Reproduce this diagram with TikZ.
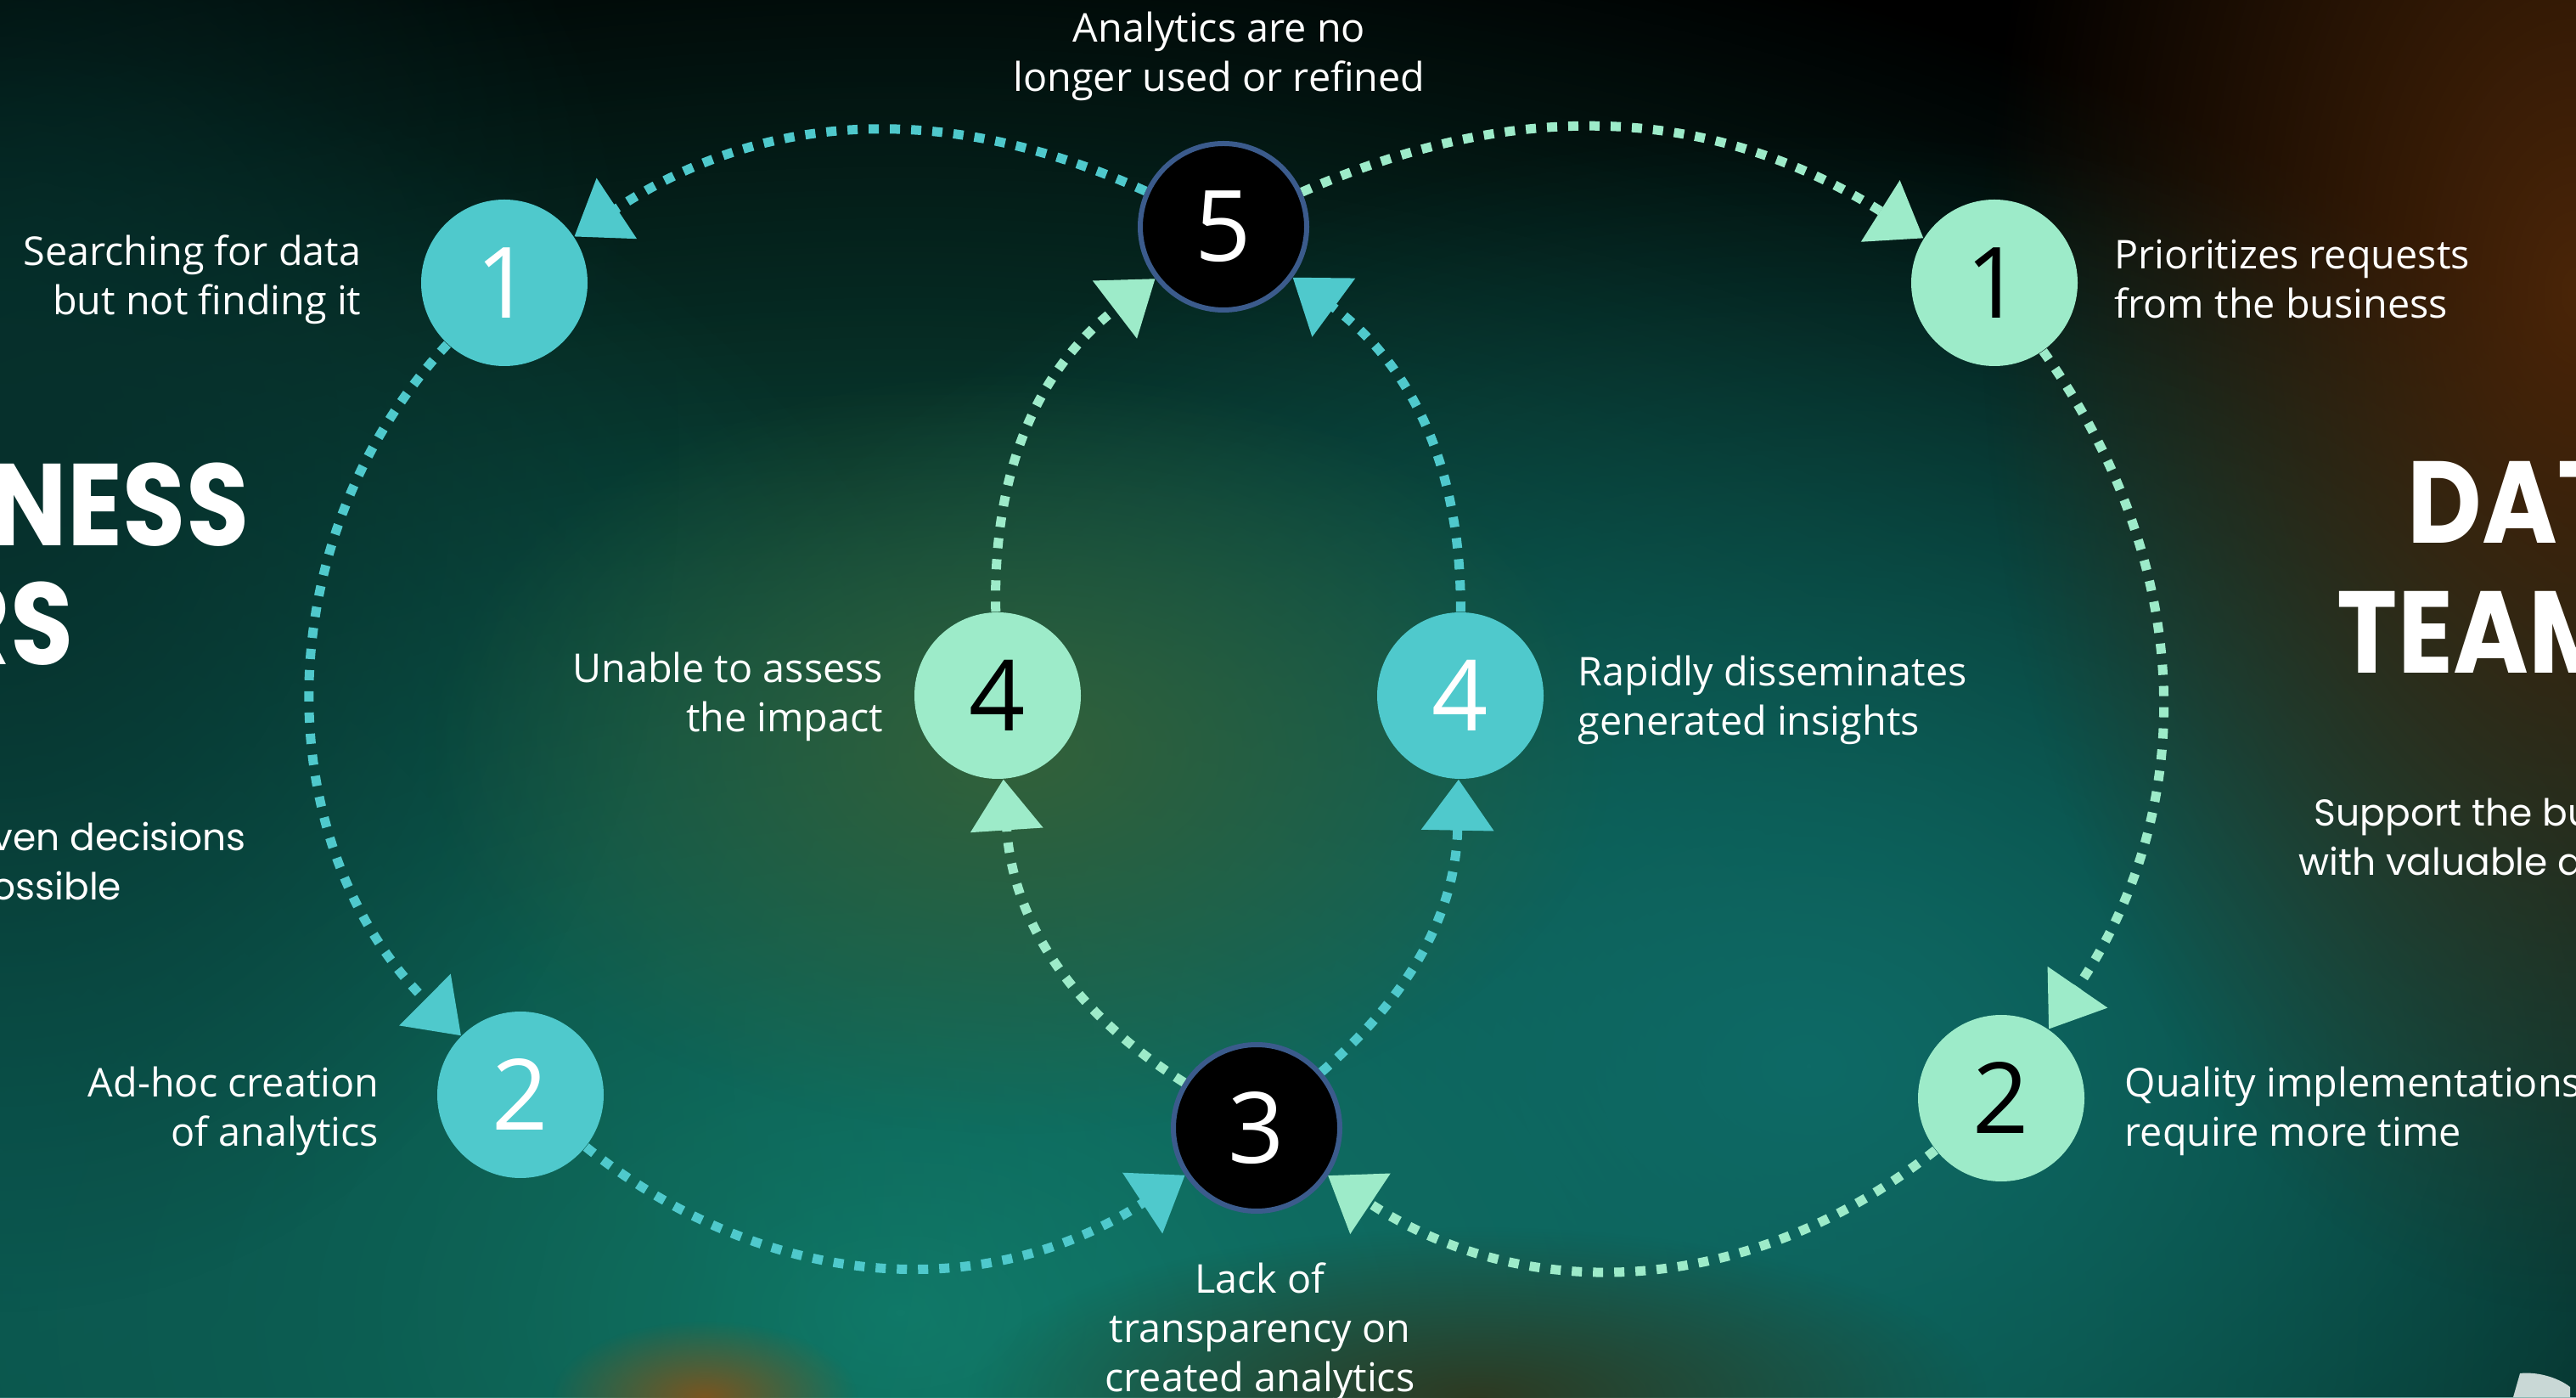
\documentclass[tikz,border=0pt]{standalone}
\usepackage{fontspec}
\setmainfont{Open Sans}
\newfontfamily\titlefont{Poppins}
\newfontfamily\headfont{Poppins}[FakeStretch=0.88]
\usepackage{tikz}
\usetikzlibrary{arrows.meta,positioning,fadings}
\definecolor{cycteal}{HTML}{4FC9CC}
\definecolor{cycmint}{HTML}{9DEBC9}
\definecolor{ringblue}{HTML}{3B5B8C}
\definecolor{hazeteal}{HTML}{13866E}
\definecolor{hazesea}{HTML}{0E6A66}
\definecolor{hazeolive}{HTML}{33613A}
\definecolor{hazedeep}{HTML}{0C5A52}
\definecolor{hazenight}{HTML}{06302C}
\definecolor{hazebrown}{HTML}{4A2508}
\definecolor{hazeamber}{HTML}{7A5520}
\definecolor{hazemoss}{HTML}{2E3A22}
\definecolor{blobgray}{HTML}{C9D8D6}
\tikzfading[name=glow, inner color=transparent!0, outer color=transparent!100]

\tikzset{
  stage/.style={circle, minimum size=1.96cm, inner sep=0pt, font=\fontsize{33}{33}\selectfont},
  tealstage/.style={stage, fill=cycteal, text=white},
  mintstage/.style={stage, fill=cycmint, text=black},
  darkstage/.style={stage, fill=black, draw=ringblue, line width=0.06cm, text=white},
  flow/.style={line width=0.11cm, dash pattern=on 0.12cm off 0.13cm,
    -{Triangle[length=0.6cm,width=0.83cm]}},
  tealflow/.style={flow, cycteal},
  mintflow/.style={flow, cycmint},
  lbl/.style={text=white, inner sep=0pt, font=\fontsize{13.3}{16.5}\selectfont},
  headline/.style={text=white, inner sep=0pt, font=\headfont\bfseries\fontsize{39}{39}\selectfont},
  sidenote/.style={text=white, inner sep=0pt, font=\titlefont\fontsize{12.5}{16.5}\selectfont},
  haze/.style={fill=#1, path fading=glow}
}

\begin{document}
\begin{tikzpicture}
  \useasboundingbox (0,0) rectangle (30.34,16.45);

  % Background
  \fill[black] (0,0) rectangle (30.34,16.45);
  \fill[haze=hazeteal]  (10.6,1.0) ellipse (27 and 17);
  \fill[haze=hazedeep]  (0,2.9) ellipse (13 and 13);
  \fill[haze=hazenight] (0,11) ellipse (8 and 10);
  \fill[haze=hazesea]   (21.3,3.9) ellipse (15 and 11);
  \fill[haze=hazeolive] (12.0,7.6) ellipse (7 and 4.5);
  \fill[haze=hazebrown] (30.34,13.0) ellipse (7 and 12);
  \fill[haze=hazeamber] (8.3,0) ellipse (1.8 and 0.9);
  \fill[haze=hazemoss]  (17.4,0) ellipse (6 and 2);
  \fill[blobgray] (29.60,0) -- (29.68,0.28) .. controls (29.85,0.30) and (30.1,0.25) .. (30.27,0.12) -- (30.27,0) -- cycle;

  % Titles
  \node[headline, anchor=base east] (tbu1) at (2.94,10.02) {NESS};
  \node[headline, anchor=base east] (tbu2) at (0.87,8.62) {RS};
  \node[headline, anchor=base west] (tdt1) at (28.35,10.05) {DAT};
  \node[headline, anchor=base west] (tdt2) at (27.52,8.52) {TEAM};
  \node[sidenote, anchor=west, align=left] (sbu) at (-0.1,6.31) {ven decisions\\ossible};
  \node[sidenote, align=center] (sdt) at (28.89,6.60) {Support the bu\\with valuable an};

  % Stages
  \node[darkstage] (s5) at (14.41,13.78) {5};
  \node[darkstage] (s3) at (14.80,3.17) {3};
  \node[tealstage] (bu1) at (5.94,13.12) {1};
  \node[tealstage] (bu2) at (6.13,3.56) {2};
  \node[tealstage] (bu4) at (17.20,8.26) {4};
  \node[mintstage] (dt1) at (23.49,13.12) {1};
  \node[mintstage] (dt2) at (23.57,3.52) {2};
  \node[mintstage] (dt4) at (11.75,8.26) {4};

  % Labels
  \node[lbl, align=center] (l5) at (14.36,15.79) {Analytics are no\\longer used or refined};
  \node[lbl, align=center] (l3) at (14.84,0.77) {Lack of\\transparency on\\created analytics};
  \node[lbl, align=right, anchor=east] (lbu1) at (4.26,13.16) {Searching for data\\but not finding it};
  \node[lbl, align=right, anchor=east] (lbu2) at (4.47,3.37) {Ad-hoc creation\\of analytics};
  \node[lbl, align=left, anchor=west] (lbu4) at (18.58,8.21) {Rapidly disseminates\\generated insights};
  \node[lbl, align=left, anchor=west] (ldt1) at (24.90,13.16) {Prioritizes requests\\from the business};
  \node[lbl, align=left, anchor=west] (ldt2) at (25.02,3.37) {Quality implementations\\require more time};
  \node[lbl, align=right, anchor=east] (ldt4) at (10.41,8.25) {Unable to assess\\the impact};

  % Business loop
  \draw[tealflow] (s5) to[bend right=29] (bu1);
  \draw[tealflow] (bu1) to[bend right=44] (bu2);
  \draw[tealflow] (bu2) to[bend right=36] (s3);
  \draw[tealflow] (s3) to[bend right=24] (bu4);
  \draw[tealflow] (bu4) to[bend right=27] (s5);

  % Data team loop
  \draw[mintflow] (s5) to[bend left=28] (dt1);
  \draw[mintflow] (dt1) to[bend left=35] (dt2);
  \draw[mintflow] (dt2) to[bend left=36] (s3);
  \draw[mintflow] (s3) to[bend left=27] (dt4);
  \draw[mintflow] (dt4) to[bend left=27] (s5);
\end{tikzpicture}
\end{document}
